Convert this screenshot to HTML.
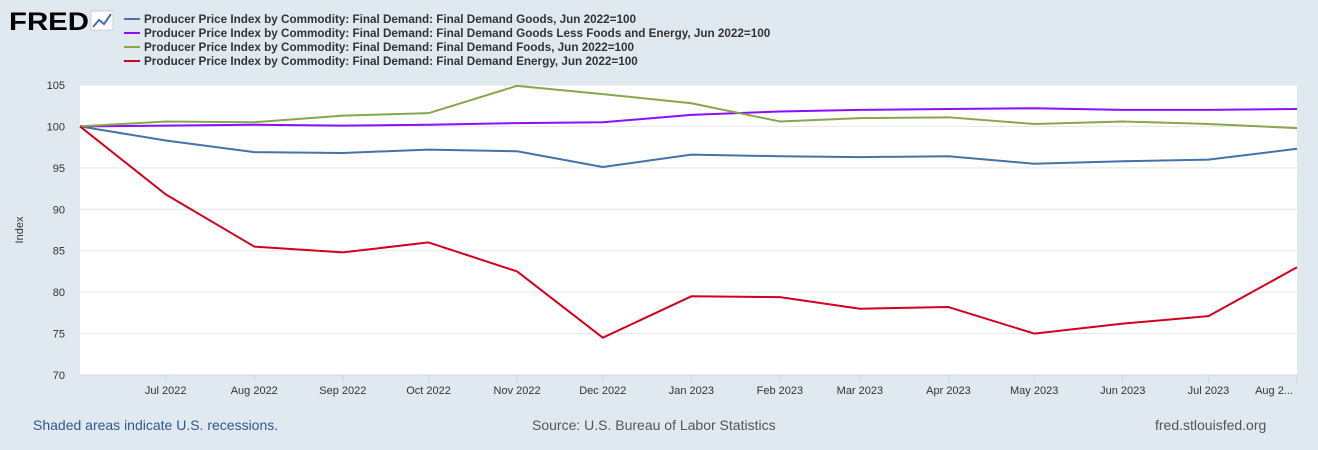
<!DOCTYPE html>
<html><head><meta charset="utf-8"><style>
body{margin:0;background:#e1e9f0;font-family:"Liberation Sans",Arial,sans-serif;}
svg{display:block}
</style></head><body>
<svg id="c" width="1318" height="450" xmlns="http://www.w3.org/2000/svg">
<rect width="1318" height="450" fill="#e1e9f0"/>
<g>
<text x="9" y="30" font-size="25" font-weight="bold" fill="#000" font-family="Liberation Sans, sans-serif" textLength="80" lengthAdjust="spacingAndGlyphs">FRED</text>
<rect x="91" y="11" width="22" height="19" fill="#fff" stroke="#aab" stroke-width="0.5"/>
<polyline points="93,27 99,20 104,24 111,14" fill="none" stroke="#4572a7" stroke-width="2"/>
</g>
<g id="legend"></g>
<rect x="80" y="85" width="1217" height="290" fill="#fff"/>
<g id="grid"></g>
<g id="series"></g>
<text transform="translate(23,230) rotate(-90)" text-anchor="middle" font-size="11" fill="#333">Index</text>
<text x="33" y="430" font-size="14" fill="#2f5597">Shaded areas indicate U.S. recessions.</text>
<text x="532" y="430" font-size="14" fill="#555">Source: U.S. Bureau of Labor Statistics</text>
<text x="1155" y="430" font-size="14" fill="#555">fred.stlouisfed.org</text>
</svg>
<script>
const dates=["2022-06-01","2022-07-01","2022-08-01","2022-09-01","2022-10-01","2022-11-01","2022-12-01","2023-01-01","2023-02-01","2023-03-01","2023-04-01","2023-05-01","2023-06-01","2023-07-01","2023-08-01"];
const tickLabels=["Jul 2022","Aug 2022","Sep 2022","Oct 2022","Nov 2022","Dec 2022","Jan 2023","Feb 2023","Mar 2023","Apr 2023","May 2023","Jun 2023","Jul 2023","Aug 2..."];
const yTicks=[70,75,80,85,90,95,100,105];
const goods=[100,98.3,96.9,96.8,97.2,97.0,95.1,96.6,96.4,96.3,96.4,95.5,95.8,96.0,97.3];
const core=[100,100.1,100.2,100.1,100.2,100.4,100.5,101.4,101.8,102.0,102.1,102.2,102.0,102.0,102.1];
const foods=[100,100.6,100.5,101.3,101.6,104.9,103.9,102.8,100.6,101.0,101.1,100.3,100.6,100.3,99.8];
const energy=[100,91.8,85.5,84.8,86.0,82.5,74.5,79.5,79.4,78.0,78.2,75.0,76.2,77.1,83.0];
const names=["Producer Price Index by Commodity: Final Demand: Final Demand Goods, Jun 2022=100","Producer Price Index by Commodity: Final Demand: Final Demand Goods Less Foods and Energy, Jun 2022=100","Producer Price Index by Commodity: Final Demand: Final Demand Foods, Jun 2022=100","Producer Price Index by Commodity: Final Demand: Final Demand Energy, Jun 2022=100"];
const NS="http://www.w3.org/2000/svg";
const L=80,R=1297,T=85,B=375;
const t0=Date.parse(dates[0]),t1=Date.parse(dates[dates.length-1]);
const x=d=>L+(Date.parse(d)-t0)/(t1-t0)*(R-L);
const y=v=>B-(v-70)/35*(B-T);
function mk(tag,attrs,parent){const e=document.createElementNS(NS,tag);for(const k in attrs)e.setAttribute(k,attrs[k]);parent.appendChild(e);return e;}
const grid=document.getElementById('grid');
yTicks.forEach(v=>{
 if(v>70){const g=mk('line',{x1:L,x2:R,y1:y(v),y2:y(v),stroke:'#e6e6e6'},grid);
 
 }
 const t=mk('text',{x:65,y:y(v)+4,'text-anchor':'end','font-size':11,fill:'#333'},grid);
 t.textContent=v;
 
 
});
mk('line',{x1:L,x2:R,y1:B,y2:B,stroke:'#ccd6eb'},grid);
tickLabels.forEach((lab,i)=>{
 const xx=x(dates[i+1]);
 mk('line',{x1:xx,x2:xx,y1:B,y2:B+8,stroke:'#ccd6eb'},grid);
 const t=mk('text',{x:i==tickLabels.length-1?xx-4:xx,y:B+19,'text-anchor':i==tickLabels.length-1?'end':'middle','font-size':11,fill:'#333'},grid);
 t.textContent=lab;
 
 
});
const series=[[goods,'#4572a7','goods'],[core,'#8b0eff','goods-less-foods-energy'],[foods,'#89a54e','foods'],[energy,'#d1001f','energy']];
const sg=document.getElementById('series'),lg=document.getElementById('legend');
series.forEach((s,i)=>{
 const p=mk('polyline',{points:s[0].map((v,j)=>x(dates[j])+','+y(v)).join(' '),fill:'none',stroke:s[1],'stroke-width':2,'stroke-linejoin':'round'},sg);
 
 
 const yy=23+i*14;
 const ln=mk('line',{x1:124,x2:140,y1:yy-4,y2:yy-4,stroke:s[1],'stroke-width':2},lg);
 
 
 const t=mk('text',{x:144,y:yy,'font-size':11.7,'font-weight':'bold',fill:'#333'},lg);
 t.textContent=names[i];
 
 
});
</script>
</body></html>
